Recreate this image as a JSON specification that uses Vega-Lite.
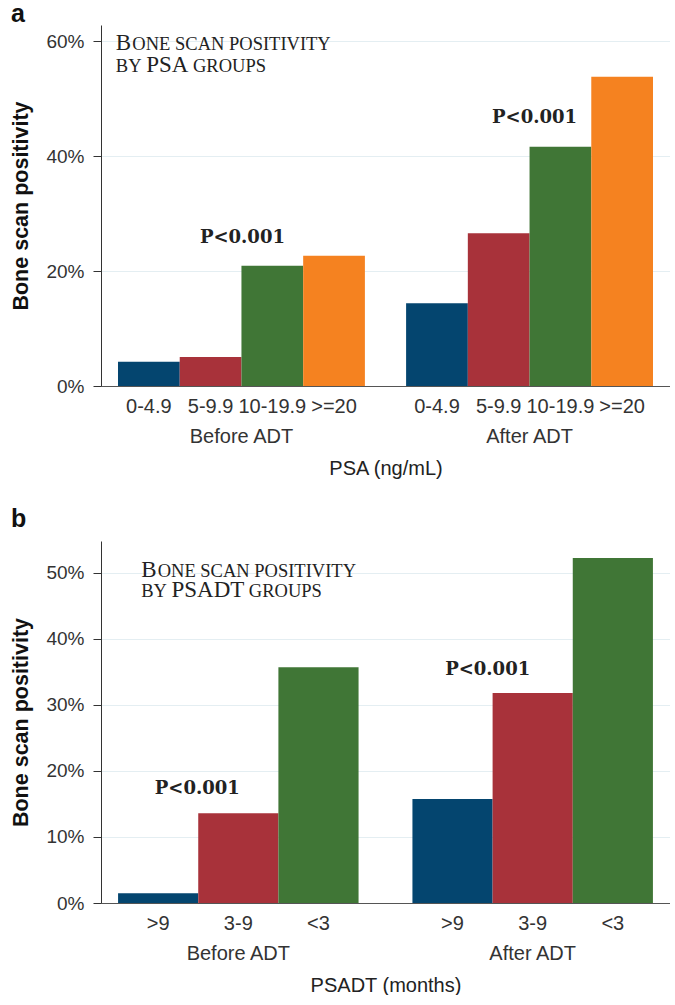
{
  "$schema": "https://vega.github.io/schema/vega-lite/v6.json",
  "padding": {"left": 10, "top": 2, "right": 0, "bottom": 0},
  "spacing": 29,
  "resolve": {"scale": {"xOffset": "independent", "color": "independent"}},
  "config": {
    "view": {"stroke": null},
    "font": "Liberation Sans",
    "scale": {"offsetBandPaddingInner": 0, "offsetBandPaddingOuter": 0},
    "axisY": {
      "tickSize": 8, "labelPadding": 9, "labelFontSize": 19, "labelColor": "#333",
      "titleFontSize": 21.5, "titleFontWeight": "bold", "titleColor": "#111", "titlePadding": 13,
      "gridColor": "#e4eef2", "domainColor": "#333", "tickColor": "#333", "format": ".0%"
    },
    "axisX": {
      "grid": false, "ticks": false, "domainColor": "#555", "labelAngle": 0,
      "labelFontSize": 20, "labelColor": "#333", "labelPadding": 40,
      "titleFontSize": 20, "titleFontWeight": "normal", "titleColor": "#222", "titlePadding": 12
    },
    "title": {"anchor": "start", "frame": "bounds", "fontSize": 25, "fontWeight": "bold", "baseline": "alphabetic", "color": "#111", "font": "Liberation Sans"}
  },
  "datasets": {
    "psa": [
      {"period": "Before ADT", "group": "0-4.9", "value": 0.0423},
      {"period": "Before ADT", "group": "5-9.9", "value": 0.0504},
      {"period": "Before ADT", "group": "10-19.9", "value": 0.209},
      {"period": "Before ADT", "group": ">=20", "value": 0.2267},
      {"period": "After ADT", "group": "0-4.9", "value": 0.1439},
      {"period": "After ADT", "group": "5-9.9", "value": 0.2656},
      {"period": "After ADT", "group": "10-19.9", "value": 0.4163},
      {"period": "After ADT", "group": ">=20", "value": 0.538}
    ],
    "psadt": [
      {"period": "Before ADT", "group": ">9", "value": 0.0147},
      {"period": "Before ADT", "group": "3-9", "value": 0.1358},
      {"period": "Before ADT", "group": "<3", "value": 0.3568},
      {"period": "After ADT", "group": ">9", "value": 0.1574},
      {"period": "After ADT", "group": "3-9", "value": 0.3179},
      {"period": "After ADT", "group": "<3", "value": 0.5223}
    ],
    "one": [{}]
  },
  "vconcat": [
    {
      "width": 569, "height": 361,
      "title": {"text": "a", "offset": -2},
      "layer": [
        {
          "data": {"name": "psa"},
          "mark": {"type": "bar"},
          "encoding": {
            "x": {"field": "period", "type": "nominal", "sort": ["Before ADT", "After ADT"],
                  "scale": {"type": "band", "paddingInner": 0.143, "paddingOuter": 0.059},
                  "axis": {"title": "PSA (ng/mL)"}},
            "xOffset": {"field": "group", "type": "nominal", "sort": ["0-4.9", "5-9.9", "10-19.9", ">=20"],
                        "scale": {"type": "band", "paddingInner": 0, "paddingOuter": 0}},
            "y": {"field": "value", "type": "quantitative",
                  "scale": {"domain": [0, 0.628], "nice": false},
                  "axis": {"title": "Bone scan positivity", "values": [0, 0.2, 0.4, 0.6]}},
            "color": {"field": "group", "type": "nominal", "legend": null,
                      "scale": {"domain": ["0-4.9", "5-9.9", "10-19.9", ">=20"], "range": ["#04456f", "#a8323a", "#407636", "#f58220"]}}
          }
        },
        {
          "data": {"name": "psa"},
          "mark": {"type": "text", "baseline": "alphabetic", "dy": 27, "fontSize": 20, "color": "#333"},
          "encoding": {
            "x": {"field": "period", "type": "nominal", "sort": ["Before ADT", "After ADT"]},
            "xOffset": {"field": "group", "type": "nominal", "sort": ["0-4.9", "5-9.9", "10-19.9", ">=20"]},
            "y": {"datum": 0},
            "text": {"field": "group"}
          }
        },
        {
          "data": {"name": "one"},
          "mark": {"type": "text", "text": "P<0.001", "font": "DejaVu Serif", "fontWeight": "bold", "fontSize": 18, "baseline": "alphabetic", "color": "#222", "dx": 1},
          "encoding": {"x": {"datum": "Before ADT"}, "y": {"datum": 0.2488}}
        },
        {
          "data": {"name": "one"},
          "mark": {"type": "text", "text": "P<0.001", "font": "DejaVu Serif", "fontWeight": "bold", "fontSize": 18, "baseline": "alphabetic", "color": "#222", "dx": 5},
          "encoding": {"x": {"datum": "After ADT"}, "y": {"datum": 0.4576}}
        },
        {
          "data": {"name": "one"},
          "mark": {"type": "text", "text": "B", "font": "Liberation Serif", "fontSize": 23, "align": "left", "baseline": "alphabetic", "color": "#222", "dx": -33},
          "encoding": {"x": {"datum": "Before ADT"}, "xOffset": {"datum": "0-4.9"}, "y": {"datum": 0.5846}}
        },
        {
          "data": {"name": "one"},
          "mark": {"type": "text", "text": "ONE SCAN POSITIVITY", "font": "Liberation Serif", "fontSize": 18.5, "align": "left", "baseline": "alphabetic", "color": "#222", "dx": -16.5},
          "encoding": {"x": {"datum": "Before ADT"}, "xOffset": {"datum": "0-4.9"}, "y": {"datum": 0.5846}}
        },
        {
          "data": {"name": "one"},
          "mark": {"type": "text", "text": "BY", "font": "Liberation Serif", "fontSize": 18.5, "align": "left", "baseline": "alphabetic", "color": "#222", "dx": -33, "dy": 22},
          "encoding": {"x": {"datum": "Before ADT"}, "xOffset": {"datum": "0-4.9"}, "y": {"datum": 0.5846}}
        },
        {
          "data": {"name": "one"},
          "mark": {"type": "text", "text": "PSA", "font": "Liberation Serif", "fontSize": 23, "align": "left", "baseline": "alphabetic", "color": "#222", "dx": -2.7, "dy": 22},
          "encoding": {"x": {"datum": "Before ADT"}, "xOffset": {"datum": "0-4.9"}, "y": {"datum": 0.5846}}
        },
        {
          "data": {"name": "one"},
          "mark": {"type": "text", "text": "GROUPS", "font": "Liberation Serif", "fontSize": 18.5, "align": "left", "baseline": "alphabetic", "color": "#222", "dx": 44.1, "dy": 22},
          "encoding": {"x": {"datum": "Before ADT"}, "xOffset": {"datum": "0-4.9"}, "y": {"datum": 0.5846}}
        }
      ]
    },
    {
      "width": 569, "height": 362,
      "title": {"text": "b", "offset": 9},
      "layer": [
        {
          "data": {"name": "psadt"},
          "mark": {"type": "bar"},
          "encoding": {
            "x": {"field": "period", "type": "nominal", "sort": ["Before ADT", "After ADT"],
                  "scale": {"type": "band", "paddingInner": 0.183, "paddingOuter": 0.058},
                  "axis": {"title": "PSADT (months)"}},
            "xOffset": {"field": "group", "type": "nominal", "sort": [">9", "3-9", "<3"],
                        "scale": {"type": "band", "paddingInner": 0, "paddingOuter": 0}},
            "y": {"field": "value", "type": "quantitative",
                  "scale": {"domain": [0, 0.548], "nice": false},
                  "axis": {"title": "Bone scan positivity", "values": [0, 0.1, 0.2, 0.3, 0.4, 0.5]}},
            "color": {"field": "group", "type": "nominal", "legend": null,
                      "scale": {"domain": [">9", "3-9", "<3"], "range": ["#04456f", "#a8323a", "#407636"]}}
          }
        },
        {
          "data": {"name": "psadt"},
          "mark": {"type": "text", "baseline": "alphabetic", "dy": 27, "fontSize": 20, "color": "#333"},
          "encoding": {
            "x": {"field": "period", "type": "nominal", "sort": ["Before ADT", "After ADT"]},
            "xOffset": {"field": "group", "type": "nominal", "sort": [">9", "3-9", "<3"]},
            "y": {"datum": 0},
            "text": {"field": "group"}
          }
        },
        {
          "data": {"name": "one"},
          "mark": {"type": "text", "text": "P<0.001", "font": "DejaVu Serif", "fontWeight": "bold", "fontSize": 18, "baseline": "alphabetic", "color": "#222", "dx": -41},
          "encoding": {"x": {"datum": "Before ADT"}, "y": {"datum": 0.165}}
        },
        {
          "data": {"name": "one"},
          "mark": {"type": "text", "text": "P<0.001", "font": "DejaVu Serif", "fontWeight": "bold", "fontSize": 18, "baseline": "alphabetic", "color": "#222", "dx": -45},
          "encoding": {"x": {"datum": "After ADT"}, "y": {"datum": 0.345}}
        },
        {
          "data": {"name": "one"},
          "mark": {"type": "text", "text": "B", "font": "Liberation Serif", "fontSize": 23, "align": "left", "baseline": "alphabetic", "color": "#222", "dx": -17},
          "encoding": {"x": {"datum": "Before ADT"}, "xOffset": {"datum": ">9"}, "y": {"datum": 0.4935}}
        },
        {
          "data": {"name": "one"},
          "mark": {"type": "text", "text": "ONE SCAN POSITIVITY", "font": "Liberation Serif", "fontSize": 18.5, "align": "left", "baseline": "alphabetic", "color": "#222", "dx": -0.5},
          "encoding": {"x": {"datum": "Before ADT"}, "xOffset": {"datum": ">9"}, "y": {"datum": 0.4935}}
        },
        {
          "data": {"name": "one"},
          "mark": {"type": "text", "text": "BY", "font": "Liberation Serif", "fontSize": 18.5, "align": "left", "baseline": "alphabetic", "color": "#222", "dx": -17, "dy": 20},
          "encoding": {"x": {"datum": "Before ADT"}, "xOffset": {"datum": ">9"}, "y": {"datum": 0.4935}}
        },
        {
          "data": {"name": "one"},
          "mark": {"type": "text", "text": "PSADT", "font": "Liberation Serif", "fontSize": 23, "align": "left", "baseline": "alphabetic", "color": "#222", "dx": 13.3, "dy": 20},
          "encoding": {"x": {"datum": "Before ADT"}, "xOffset": {"datum": ">9"}, "y": {"datum": 0.4935}}
        },
        {
          "data": {"name": "one"},
          "mark": {"type": "text", "text": "GROUPS", "font": "Liberation Serif", "fontSize": 18.5, "align": "left", "baseline": "alphabetic", "color": "#222", "dx": 90.7, "dy": 20},
          "encoding": {"x": {"datum": "Before ADT"}, "xOffset": {"datum": ">9"}, "y": {"datum": 0.4935}}
        }
      ]
    }
  ]
}
